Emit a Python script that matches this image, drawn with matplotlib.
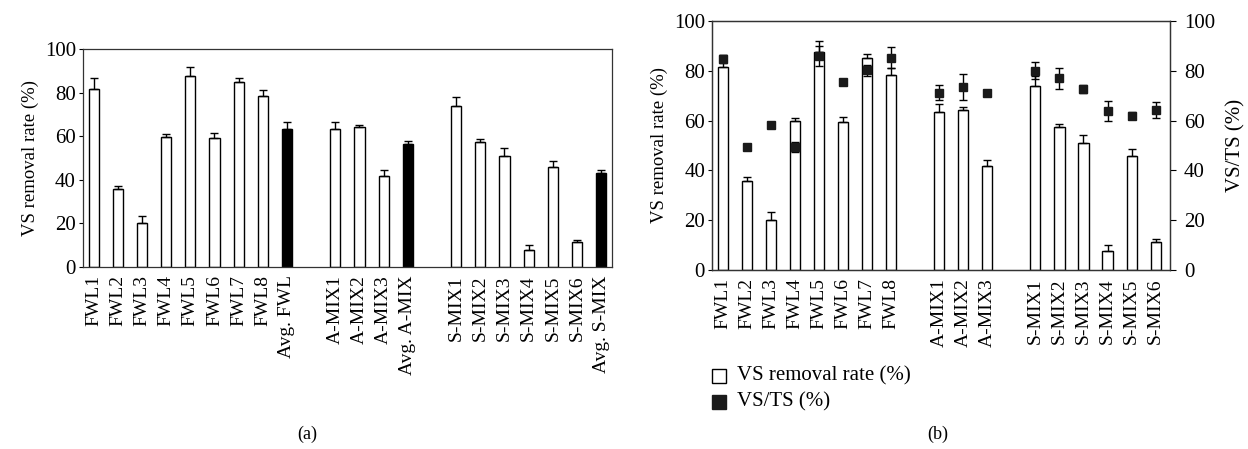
import numpy as np
import matplotlib
matplotlib.use("Agg")
import matplotlib.pyplot as plt
from matplotlib.patches import Rectangle

plt.rcParams['font.family'] = ['Liberation Serif', 'DejaVu Serif']
plt.rcParams['font.size'] = 13

# (a) VS removal rate, incl. averages
labels_a = ['FWL1', 'FWL2', 'FWL3', 'FWL4', 'FWL5', 'FWL6', 'FWL7', 'FWL8', 'Avg. FWL',
            'A-MIX1', 'A-MIX2', 'A-MIX3', 'Avg. A-MIX',
            'S-MIX1', 'S-MIX2', 'S-MIX3', 'S-MIX4', 'S-MIX5', 'S-MIX6', 'Avg. S-MIX']
removal_a = [81.5, 35.9, 20.0, 59.8, 87.6, 59.3, 85.0, 78.3, 63.3,
             63.3, 64.1, 41.7, 56.4,
             73.9, 57.5, 51.1, 7.6, 45.9, 11.3, 43.0]
removal_err_a = [5.0, 1.3, 3.4, 1.1, 4.3, 2.3, 1.8, 2.9, 3.1,
                 3.4, 1.2, 2.6, 1.5,
                 4.2, 1.1, 3.3, 2.5, 2.7, 1.2, 1.5]
is_avg = [False] * 8 + [True] + [False] * 3 + [True] + [False] * 6 + [True]

# (b) samples only
labels_b = ['FWL1', 'FWL2', 'FWL3', 'FWL4', 'FWL5', 'FWL6', 'FWL7', 'FWL8',
            'A-MIX1', 'A-MIX2', 'A-MIX3',
            'S-MIX1', 'S-MIX2', 'S-MIX3', 'S-MIX4', 'S-MIX5', 'S-MIX6']
removal_b = [81.5, 35.9, 20.0, 59.8, 87.6, 59.3, 85.0, 78.3,
             63.3, 64.1, 41.7,
             73.9, 57.5, 51.1, 7.6, 45.9, 11.3]
removal_err_b = [5.0, 1.3, 3.4, 1.1, 4.3, 2.3, 1.8, 2.9,
                 3.4, 1.2, 2.6,
                 4.2, 1.1, 3.3, 2.5, 2.7, 1.2]
vsts = [84.7, 49.4, 58.1, 49.4, 85.9, 75.4, 80.2, 85.3,
        71.2, 73.6, 71.1,
        80.1, 77.0, 72.7, 63.7, 62.0, 64.3]
vsts_err = [1.5, 0.5, 0.5, 2.0, 4.0, 0.5, 2.3, 4.3,
            3.0, 5.3, 0.8,
            3.3, 4.2, 1.5, 4.0, 1.5, 3.2]

# x positions with one-slot gaps between groups
pos_a = list(range(0, 9)) + list(range(10, 14)) + list(range(15, 22))
pos_b = list(range(0, 8)) + list(range(9, 12)) + list(range(13, 19))

fig = plt.figure(figsize=(12.48, 4.49), dpi=100)
bw = 0.42
xfs = 14   # x tick labels
yfs = 15   # y tick labels

# ---- panel (a)
ax1 = fig.add_axes([0.0663, 0.4053, 0.4241, 0.4856])
colors = ['black' if a else 'white' for a in is_avg]
ax1.bar(pos_a, removal_a, width=bw, color=colors, edgecolor='black', linewidth=1.0, zorder=2)
ax1.errorbar(pos_a, np.array(removal_a), yerr=[np.zeros(len(pos_a)), removal_err_a],
             fmt='none', ecolor='black', elinewidth=1.0, capsize=3, capthick=1.0, zorder=3)
ax1.set_xlim(-0.45, 21.45)
ax1.set_ylim(0, 100)
ax1.set_yticks([0, 20, 40, 60, 80, 100])
ax1.set_xticks(pos_a)
ax1.set_xticklabels(labels_a, rotation=90, fontsize=xfs)
ax1.tick_params(axis='x', length=0, pad=6)
ax1.tick_params(axis='y', direction='out', length=3, width=0.8, pad=2, labelsize=yfs)
ax1.set_ylabel('VS removal rate (%)', fontsize=13.5, labelpad=4)
for s in ax1.spines.values():
    s.set_linewidth(0.9)
    s.set_color('#333333')

# ---- panel (b)
ax2 = fig.add_axes([0.5705, 0.3987, 0.3670, 0.5545])
ax2.bar(pos_b, removal_b, width=bw, color='white', edgecolor='black', linewidth=1.0, zorder=2)
ax2.errorbar(pos_b, np.array(removal_b), yerr=[np.zeros(len(pos_b)), removal_err_b],
             fmt='none', ecolor='black', elinewidth=1.0, capsize=3, capthick=1.0, zorder=3)
ax2.set_xlim(-0.46, 18.6)
ax2.set_ylim(0, 100)
ax2.set_yticks([0, 20, 40, 60, 80, 100])
ax2.set_xticks(pos_b)
ax2.set_xticklabels(labels_b, rotation=90, fontsize=xfs)
ax2.tick_params(axis='x', length=0, pad=6)
ax2.tick_params(axis='y', direction='out', length=3, width=0.8, pad=2, labelsize=yfs)
ax2.set_ylabel('VS removal rate (%)', fontsize=13.5, labelpad=4)
for s in ax2.spines.values():
    s.set_linewidth(0.9)
    s.set_color('#333333')

ax3 = ax2.twinx()
ax3.errorbar(pos_b, vsts, yerr=vsts_err, fmt='s', color='#1a1a1a', markersize=6.2,
             ecolor='black', elinewidth=1.0, capsize=3, capthick=1.0, zorder=4)
ax3.set_ylim(0, 100)
ax3.set_yticks([0, 20, 40, 60, 80, 100])
ax3.tick_params(axis='y', direction='out', length=4, width=0.8, pad=6, labelsize=yfs)
ax3.set_ylabel('VS/TS (%)', fontsize=15, labelpad=8)
for s in ax3.spines.values():
    s.set_linewidth(0.9)
    s.set_color('#333333')

# legend under panel (b)
fig.patches.append(Rectangle((712 / 1248, 1 - 383 / 449), 14 / 1248, 14 / 449,
                             transform=fig.transFigure, facecolor='white',
                             edgecolor='black', linewidth=1.0))
fig.patches.append(Rectangle((712 / 1248, 1 - 409 / 449), 14 / 1248, 14 / 449,
                             transform=fig.transFigure, facecolor='#1a1a1a',
                             edgecolor='#1a1a1a', linewidth=1.0))
fig.text(737 / 1248, 1 - 376 / 449, 'VS removal rate (%)', va='center', ha='left', fontsize=15)
fig.text(737 / 1248, 1 - 402 / 449, 'VS/TS (%)', va='center', ha='left', fontsize=15)

fig.text(307 / 1248, 1 - 434 / 449, '(a)', ha='center', va='center', fontsize=13)
fig.text(938 / 1248, 1 - 434 / 449, '(b)', ha='center', va='center', fontsize=13)

fig.savefig('out.png', dpi=100)
